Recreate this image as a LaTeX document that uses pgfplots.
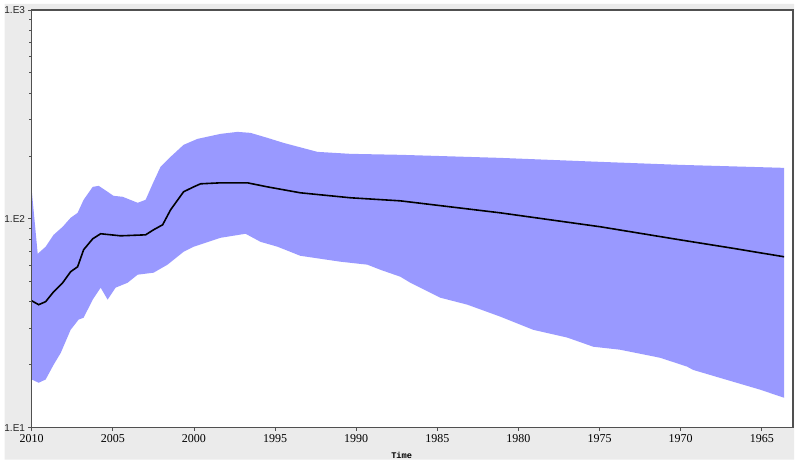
\documentclass[border=0pt]{standalone}
\usepackage{fontspec}
\setmainfont{Liberation Serif}
\newfontfamily\arialf{Liberation Sans}
\newfontfamily\monof{Liberation Mono}
\usepackage{pgfplots}
\pgfplotsset{compat=1.18}
\usepgfplotslibrary{fillbetween}
\definecolor{band}{RGB}{153,153,255}
\definecolor{panel}{RGB}{235,235,235}
\definecolor{axc}{RGB}{80,80,80}

\begin{document}
\begin{tikzpicture}
\path (0,0) rectangle (600pt,348.75pt);
\fill[panel, even odd rule] (3pt,3.75pt) rectangle (595.5pt,345.75pt)
  (23.25pt,27.75pt) rectangle (594.75pt,341.25pt);
\begin{axis}[
  at={(23.25pt,27.75pt)}, anchor=south west,
  scale only axis, width=571.5pt, height=313.5pt,
  x dir=reverse, xmin=1963.08, xmax=2010,
  ymode=log, ymin=10, ymax=1000,
  axis line style={draw=axc, line width=0.9pt},
  axis on top,
  tick pos=left,
  tick align=outside,
  major tick length=2.5pt, minor tick length=1.8pt,
  every tick/.style={axc, line width=0.6pt},
  xtick={1965,1970,1975,1980,1985,1990,1995,2000,2005,2010},
  xticklabels={1965,1970,1975,1980,1985,1990,1995,2000,2005,2010},
  xticklabel style={font=\fontsize{9}{10}\selectfont, text=black, yshift=1pt},
  ytick={10,100,1000},
  yticklabels={1.E1,1.E2,1.E3},
  yticklabel style={font=\arialf\fontsize{7.5}{8}\selectfont, text=black!85, xshift=1pt},
  /pgf/number format/assume math mode=true,
  xlabel={\monof\bfseries Time},
  xlabel style={font=\fontsize{6.5}{7}\selectfont, at={(axis description cs:0.486,0)}, anchor=center, yshift=-20.5pt},
]
\addplot[name path=upper, draw=none] coordinates {
(2010.00,137.7) (2009.63,68.0) (2009.14,73.5) (2008.65,83.8) (2008.09,91.6)
(2007.60,101.1) (2007.17,106.8) (2006.80,123.3) (2006.24,142.2) (2005.87,143.8)
(2004.95,128.8) (2004.40,127.5) (2003.47,119.3) (2002.98,123.3) (2002.49,150.3)
(2002.06,177.4) (2001.44,198.1) (2000.64,226.0) (1999.78,241.4) (1998.36,255.1)
(1997.32,260.8) (1996.51,257.9) (1995.47,244.1) (1994.48,231.0) (1992.39,209.2)
(1990.36,204.7) (1987.28,202.5) (1981.12,195.8) (1974.96,187.4) (1970.04,181.3)
(1963.63,175.4)};
\addplot[name path=lower, draw=none] coordinates {
(2010.00,17.0) (2009.57,16.4) (2009.14,17.0) (2008.65,20.0) (2008.21,22.8)
(2007.60,29.4) (2007.11,32.9) (2006.80,33.6) (2006.24,41.0) (2005.75,46.8)
(2005.32,41.0) (2004.83,46.8) (2004.09,49.4) (2003.47,54.0) (2002.49,55.2)
(2001.63,60.3) (2000.64,69.5) (2000.02,73.5) (1998.36,81.1) (1996.82,84.8)
(1995.90,77.6) (1994.85,73.5) (1993.44,66.5) (1990.97,62.3) (1989.31,60.3)
(1988.51,57.0) (1987.28,52.8) (1986.66,49.4) (1984.82,41.9) (1983.15,38.8)
(1981.12,34.0) (1979.09,29.4) (1977.00,27.0) (1975.39,24.4) (1973.73,23.6)
(1971.27,21.6) (1969.61,19.6) (1969.24,18.9) (1967.57,17.3) (1965.11,15.2)
(1963.63,13.9)};
\addplot[fill=band, draw=none] fill between[of=upper and lower];
\addplot[black, line width=1.2pt] coordinates {
(2010.00,40.5) (2009.57,38.8) (2009.14,40.1) (2008.65,44.7) (2008.09,49.4)
(2007.60,55.8) (2007.17,58.9) (2006.80,71.1) (2006.24,80.2) (2005.75,84.8)
(2004.52,82.9) (2002.98,83.8) (2002.49,88.6) (2001.93,93.6) (2001.44,110.4)
(2000.64,134.7) (2000.02,142.2) (1999.59,147.1) (1998.36,148.7) (1996.70,148.7)
(1995.47,142.2) (1993.44,133.2) (1990.36,126.1) (1987.28,121.9) (1981.12,106.8)
(1974.96,91.6) (1970.04,79.3) (1966.95,72.6) (1963.63,65.8)};
\end{axis}
\end{tikzpicture}
\end{document}
